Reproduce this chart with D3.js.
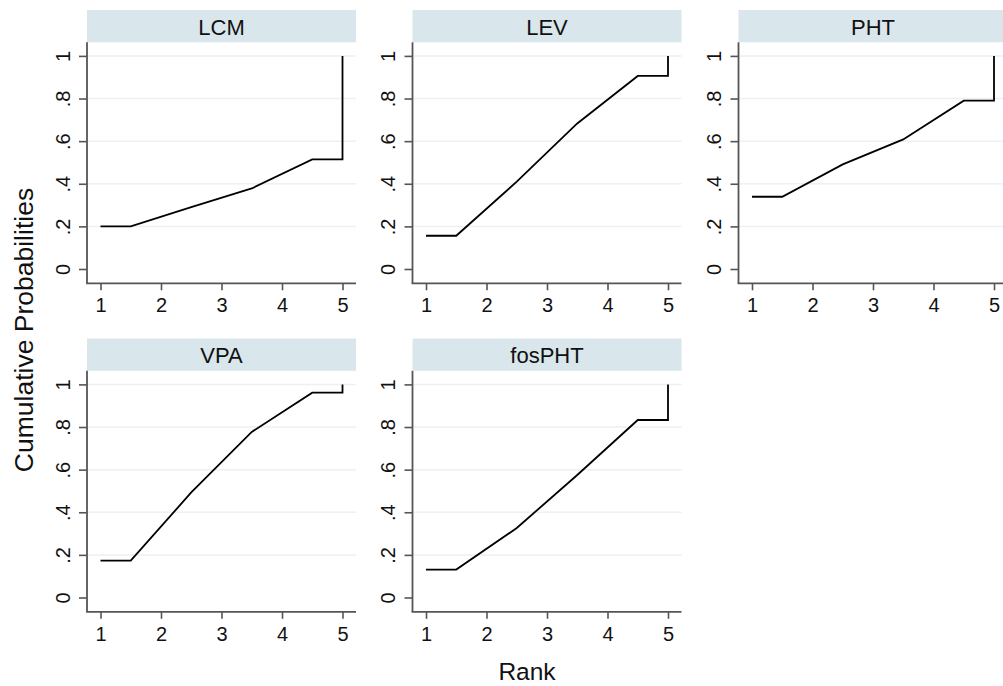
<!DOCTYPE html>
<html>
<head>
<meta charset="utf-8">
<script src="https://cdn.jsdelivr.net/npm/d3@7"></script>
<style>
  html, body { margin: 0; padding: 0; background: #fff; }
  svg { display: block; font-family: "Liberation Sans", Arial, Helvetica, sans-serif; }
</style>
</head>
<body>
<svg id="chart" width="1003" height="686"></svg>
<script>
// ---- data ----
const treatments = ["LCM", "LEV", "PHT", "VPA", "fosPHT"];
const rankPositions = [1, 1.5, 2.5, 3.5, 4.5, 5, 5];
const cumLCM    = [0.200, 0.200, 0.290, 0.378, 0.514, 0.514, 1];
const cumLEV    = [0.156, 0.156, 0.410, 0.683, 0.906, 0.906, 1];
const cumPHT    = [0.339, 0.339, 0.491, 0.608, 0.790, 0.790, 1];
const cumVPA    = [0.173, 0.173, 0.493, 0.777, 0.961, 0.961, 1];
const cumFosPHT = [0.131, 0.131, 0.326, 0.575, 0.833, 0.833, 1];
const xTicks = [1, 2, 3, 4, 5];
const yTicks = [0, 0.2, 0.4, 0.6, 0.8, 1];
const yTickLabels = ["0", ".2", ".4", ".6", ".8", "1"];
const gridTicks = [0.2, 0.4, 0.6, 0.8, 1];
const xTitle = "Rank";
const yTitle = "Cumulative Probabilities";

const seriesValues = [cumLCM, cumLEV, cumPHT, cumVPA, cumFosPHT];

// ---- layout ----
const colLeft = [87, 412.5, 738.5];
const stripTop = [10, 338.5];
const stripH = 32.3;
const plotW = 269;
const plotH = 241;
const padX = 13.5, padTop = 13.6, padBottom = 14.3;

const svg = d3.select("#chart");
const axisColor = "#555555";
const tickFont = "20px";

treatments.forEach((name, i) => {
  const col = i % 3, row = Math.floor(i / 3);
  const left = colLeft[col];
  const sTop = stripTop[row];
  const top = sTop + stripH;
  const g = svg.append("g");

  const x = d3.scaleLinear().domain([1, 5]).range([left + padX, left + plotW - padX]);
  const y = d3.scaleLinear().domain([0, 1]).range([top + plotH - padBottom, top + padTop]);

  // strip
  g.append("rect")
    .attr("x", left).attr("y", sTop)
    .attr("width", plotW).attr("height", stripH)
    .attr("fill", "#d9e6eb");
  g.append("text")
    .attr("x", left + plotW / 2).attr("y", sTop + 24.5)
    .attr("text-anchor", "middle")
    .attr("font-size", "22px")
    .attr("fill", "#111")
    .text(name);

  // grid
  g.selectAll("line.grid").data(gridTicks).enter().append("line")
    .attr("class", "grid")
    .attr("x1", left).attr("x2", left + plotW)
    .attr("y1", d => y(d)).attr("y2", d => y(d))
    .attr("stroke", "#eaf2f3").attr("stroke-width", 1.5);

  // y axis ticks
  const yAxis = d3.axisLeft(y).tickValues(yTicks)
    .tickFormat((d, k) => yTickLabels[k])
    .tickSize(8).tickSizeOuter(0).tickPadding(9);
  const ya = g.append("g").attr("transform", `translate(${left},0)`).call(yAxis);
  ya.select(".domain").remove();
  ya.selectAll(".tick line").attr("stroke", axisColor).attr("stroke-width", 1.6);
  ya.selectAll(".tick text")
    .attr("font-size", tickFont).attr("fill", "#111")
    .attr("font-family", '"Liberation Sans", Arial, sans-serif')
    .attr("x", null).attr("dy", null)
    .attr("text-anchor", "middle")
    .attr("transform", "translate(-17.5,0) rotate(-90)");

  // x axis ticks
  const xAxis = d3.axisBottom(x).tickValues(xTicks)
    .tickFormat(d3.format("d"))
    .tickSize(7).tickSizeOuter(0).tickPadding(8);
  const xa = g.append("g").attr("transform", `translate(0,${top + plotH})`).call(xAxis);
  xa.select(".domain").remove();
  xa.selectAll(".tick line").attr("stroke", axisColor).attr("stroke-width", 1.6);
  xa.selectAll(".tick text")
    .attr("font-size", tickFont).attr("fill", "#111")
    .attr("font-family", '"Liberation Sans", Arial, sans-serif')
    .attr("dy", null).attr("y", 29);

  // axis lines
  g.append("line")
    .attr("x1", left).attr("x2", left)
    .attr("y1", top).attr("y2", top + plotH)
    .attr("stroke", axisColor).attr("stroke-width", 1.8);
  g.append("line")
    .attr("x1", left - 0.9).attr("x2", left + plotW)
    .attr("y1", top + plotH).attr("y2", top + plotH)
    .attr("stroke", axisColor).attr("stroke-width", 1.8);

  // series line
  const pts = rankPositions.map((r, k) => [r, seriesValues[i][k]]);
  const line = d3.line().x(d => x(d[0])).y(d => y(d[1]));
  g.append("path")
    .attr("d", line(pts))
    .attr("fill", "none")
    .attr("stroke", "#000")
    .attr("stroke-width", 1.8)
    .attr("stroke-linejoin", "miter");
});

// axis titles
svg.append("text")
  .attr("x", 527).attr("y", 680)
  .attr("text-anchor", "middle")
  .attr("font-size", "24.5px").attr("fill", "#111")
  .text(xTitle);
svg.append("text")
  .attr("transform", "translate(33,330) rotate(-90)")
  .attr("text-anchor", "middle")
  .attr("font-size", "26.5px").attr("fill", "#111")
  .text(yTitle);
</script>
</body>
</html>
